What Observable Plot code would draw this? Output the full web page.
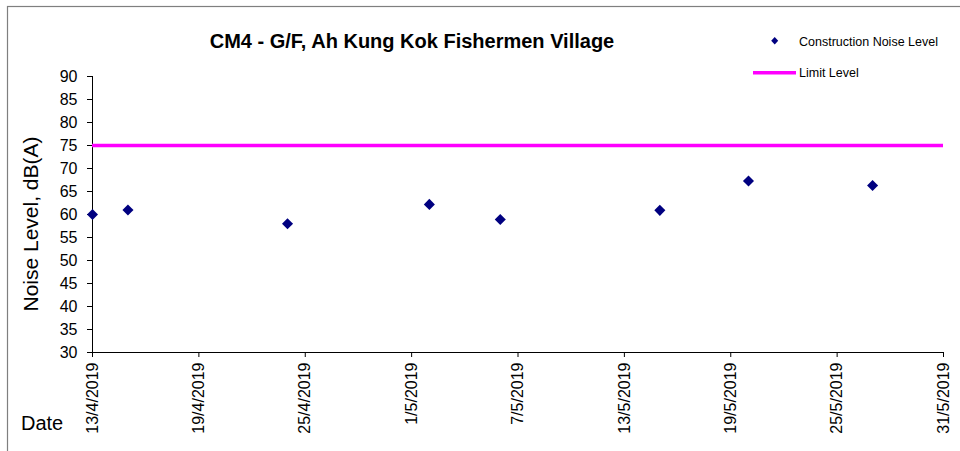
<!DOCTYPE html>
<html>
<head>
<meta charset="utf-8">
<script src="https://cdn.jsdelivr.net/npm/d3@7"></script>
<script src="https://cdn.jsdelivr.net/npm/@observablehq/plot@0.6"></script>
<style>
  html, body { margin: 0; padding: 0; background: #fff; }
  #chart { width: 960px; height: 451px; overflow: hidden; }
</style>
</head>
<body>
<div id="chart"></div>
<script>
// ---- data ----
const dates = ["2019-04-13", "2019-04-15", "2019-04-24", "2019-05-02", "2019-05-06", "2019-05-15", "2019-05-20", "2019-05-27"];
const noiseLevels = [60.0, 61.0, 58.0, 62.2, 58.9, 60.9, 67.3, 66.3];
const limitLevel = 75;
const xTickDates = ["2019-04-13", "2019-04-19", "2019-04-25", "2019-05-01", "2019-05-07", "2019-05-13", "2019-05-19", "2019-05-25", "2019-05-31"];
const yTicks = [30, 35, 40, 45, 50, 55, 60, 65, 70, 75, 80, 85, 90];
const titleText = "CM4 - G/F, Ah Kung Kok Fishermen Village";
const yLabelText = "Noise Level, dB(A)";
const xLabelText = "Date";
const seriesNames = ["Construction Noise Level", "Limit Level"];

const parse = d3.utcParse("%Y-%m-%d");
const fmt = d3.utcFormat("%-d/%-m/%Y");
const data = dates.map((d, i) => ({date: parse(d), value: noiseLevels[i]}));
const ticks = xTickDates.map(parse);
const xStart = ticks[0], xEnd = ticks[ticks.length - 1];

const navy = "#000080";
const magenta = "#FF00FF";
const font = "'Liberation Sans', Arial, Helvetica, sans-serif";

const svg = Plot.plot({
  width: 960,
  height: 451,
  marginLeft: 92,
  marginRight: 17,
  marginTop: 76,
  marginBottom: 99,
  style: {fontFamily: font, fontSize: "16px", background: "white", color: "black", overflow: "visible"},
  x: {type: "utc", domain: [xStart, xEnd]},
  y: {domain: [30, 90]},
  marks: [
    Plot.axisY({ticks: yTicks, tickSize: 5, tickPadding: 10, label: null}),
    Plot.axisX({ticks: ticks, tickSize: 5, tickPadding: 5, tickRotate: -90, tickFormat: fmt, label: null}),
    Plot.ruleX([xStart], {stroke: "black"}),
    Plot.ruleY([30], {stroke: "black"}),
    Plot.ruleY([limitLevel], {stroke: magenta, strokeWidth: 3.3}),
    Plot.dot(data, {x: "date", y: "value", symbol: "square", rotate: 45, r: 4.4, fill: navy, stroke: "none"})
  ]
});

const s = d3.select(svg);
// outer chart-area border
s.append("rect").attr("x", 7.5).attr("y", 6.5).attr("width", 1200).attr("height", 1200)
  .attr("fill", "none").attr("stroke", "#7f7f7f").attr("stroke-width", 1.2);
// title
s.append("text").attr("x", 412).attr("y", 48).attr("text-anchor", "middle")
  .attr("font-family", font).attr("font-size", 20).attr("font-weight", "bold").text(titleText);
// y label
s.append("text").attr("transform", "translate(38,224) rotate(-90)").attr("text-anchor", "middle")
  .attr("font-family", font).attr("font-size", 21).text(yLabelText);
// x label
s.append("text").attr("x", 21).attr("y", 430).attr("text-anchor", "start")
  .attr("font-family", font).attr("font-size", 20).text(xLabelText);
// legend
const lg = s.append("g").attr("font-family", font).attr("font-size", 12.5).attr("text-anchor", "start");
lg.append("path").attr("d", "M774.7,37 L778.2,40.7 L774.7,44.4 L771.2,40.7 Z").attr("fill", navy);
lg.append("text").attr("x", 799).attr("y", 46).text(seriesNames[0]);
lg.append("line").attr("x1", 753).attr("x2", 796).attr("y1", 72.7).attr("y2", 72.7)
  .attr("stroke", magenta).attr("stroke-width", 3.5);
lg.append("text").attr("x", 799).attr("y", 77.3).text(seriesNames[1]);

document.getElementById("chart").appendChild(svg);
</script>
</body>
</html>
